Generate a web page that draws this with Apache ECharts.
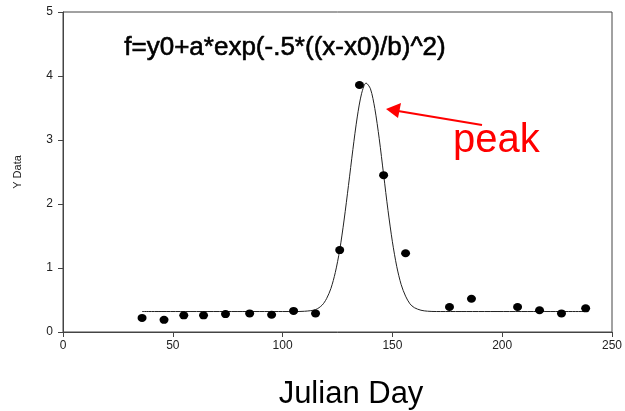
<!DOCTYPE html>
<html><head><meta charset="utf-8">
<script src="https://cdn.jsdelivr.net/npm/echarts@6/dist/echarts.min.js"></script>
<style>html,body{margin:0;padding:0;background:#fff}#c{width:625px;height:411px}</style>
</head><body><div id="c"></div>
<script>
const days = [36, 46, 55, 64, 74, 85, 95, 105, 115, 126, 135, 146, 156, 176, 186, 207, 217, 227, 238];
const yData = [0.22, 0.19, 0.26, 0.26, 0.28, 0.29, 0.27, 0.33, 0.29, 1.28, 3.86, 2.45, 1.23, 0.39, 0.52, 0.39, 0.34, 0.29, 0.37];
const fitX = [36, 100, 105, 110, 115, 118, 120, 122, 124, 126, 128, 130, 132, 134, 136, 138, 140, 142, 144, 146, 148, 150, 152, 154, 156, 158, 160, 163, 166, 170, 238];
const fitY = [0.32, 0.32, 0.32, 0.324, 0.35, 0.42, 0.52, 0.68, 0.93, 1.28, 1.75, 2.29, 2.85, 3.36, 3.73, 3.89, 3.80, 3.49, 3.02, 2.46, 1.90, 1.41, 1.02, 0.74, 0.56, 0.44, 0.38, 0.34, 0.325, 0.32, 0.32];
const xTicks = [0, 50, 100, 150, 200, 250];
const yTicks = [0, 1, 2, 3, 4, 5];
const equation = 'f=y0+a*exp(-.5*((x-x0)/b)^2)';

const chart = echarts.init(document.getElementById('c'));
const font = 'Liberation Sans, Arial, sans-serif';
chart.setOption({
  animation: false,
  textStyle: {fontFamily: font},
  grid: {left: 63, right: 13, top: 12, bottom: 79, show: true, borderColor: '#444', borderWidth: 1, containLabel: false, outerBoundsMode: 'none'},
  xAxis: {
    type: 'value', min: xTicks[0], max: xTicks[xTicks.length - 1], interval: 50,
    name: 'Julian Day', nameLocation: 'middle', nameGap: 47,
    nameTextStyle: {fontSize: 31, color: '#000', fontFamily: font, padding: [0, 0, 0, 27]},
    axisLine: {lineStyle: {color: '#444'}},
    axisTick: {show: true, length: 5, lineStyle: {color: '#444'}},
    axisLabel: {color: '#222', fontSize: 12, margin: 8},
    splitLine: {show: false}
  },
  yAxis: {
    type: 'value', min: yTicks[0], max: yTicks[yTicks.length - 1], interval: 1,
    name: 'Y Data', nameLocation: 'middle', nameGap: 40, nameRotate: 90,
    nameTextStyle: {fontSize: 11, color: '#222', fontFamily: font},
    axisLine: {show: true, lineStyle: {color: '#444'}},
    axisTick: {show: true, length: 5, lineStyle: {color: '#444'}},
    axisLabel: {color: '#222', fontSize: 12, margin: 10},
    splitLine: {show: false}
  },
  series: [
    {
      type: 'line', data: fitX.map((x, i) => [x, fitY[i]]), smooth: 0.3,
      showSymbol: false, symbol: 'none',
      lineStyle: {color: '#222', width: 1}, z: 2
    },
    {
      type: 'scatter', data: days.map((x, i) => [x, yData[i]]),
      symbol: 'circle', symbolSize: [9, 8],
      itemStyle: {color: '#000', opacity: 1}, z: 3
    }
  ],
  graphic: [
    {type: 'text', left: 124, top: 35, style: {text: equation, font: '26px Liberation Sans, Arial, sans-serif', fill: '#000', stroke: '#000', lineWidth: 0.6}},
    {type: 'text', left: 453, top: 121, style: {text: 'peak', font: '40px Liberation Sans, Arial, sans-serif', fill: '#ff0000'}},
    {type: 'line', shape: {x1: 482, y1: 125, x2: 398, y2: 111}, style: {stroke: '#ff0000', lineWidth: 2}},
    {type: 'polygon', shape: {points: [[386, 109], [401, 103], [398, 118]]}, style: {fill: '#ff0000'}}
  ]
});
</script></body></html>
